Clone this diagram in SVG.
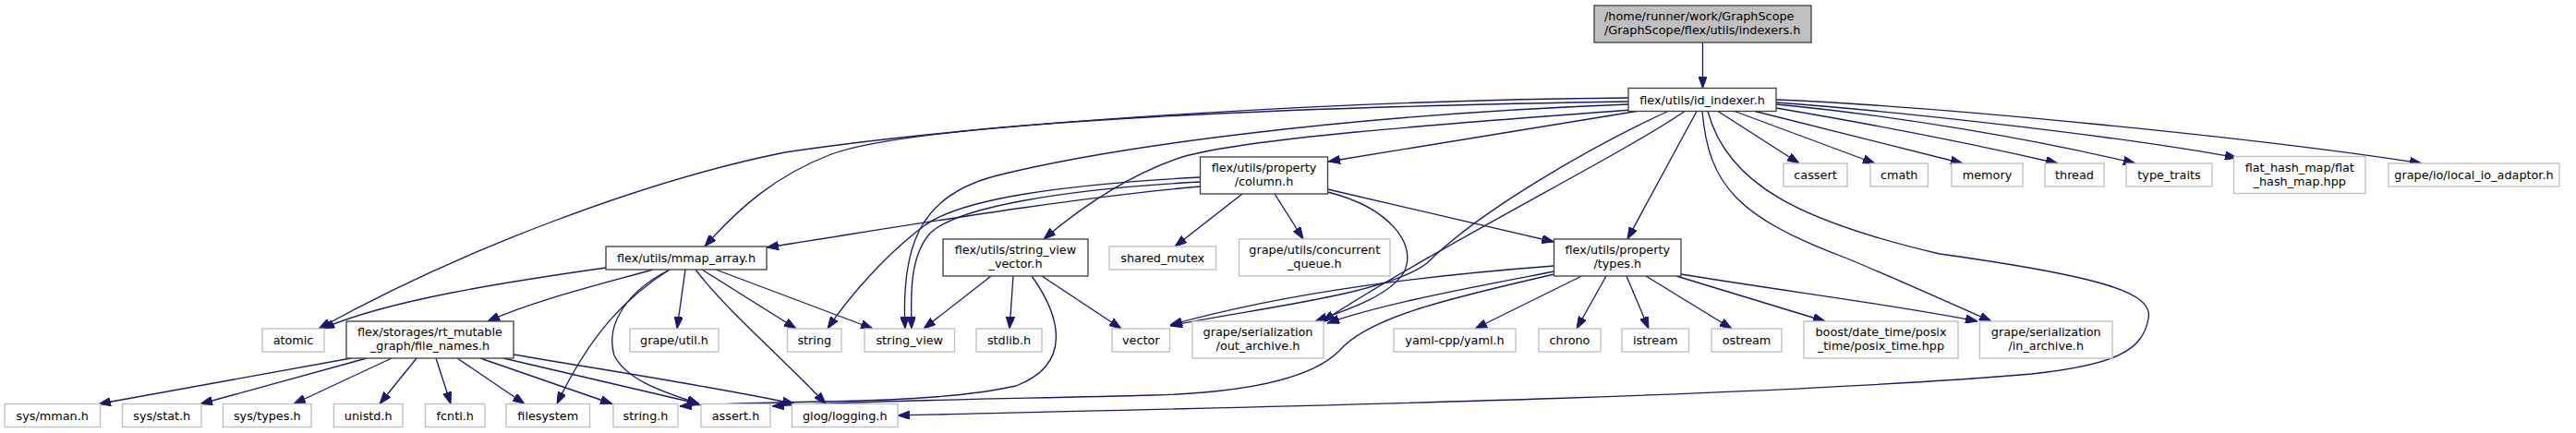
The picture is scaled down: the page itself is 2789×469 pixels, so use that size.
<svg xmlns="http://www.w3.org/2000/svg" width="2789" height="469" viewBox="0 0 2789 469">
<style>
text{font-family:"DejaVu Sans","Liberation Sans",sans-serif;font-size:12.8px;fill:#000;text-anchor:middle}
.l{text-anchor:start}
.m rect{fill:#fff;stroke:#404040;stroke-width:1.33}
.x rect{fill:#fff;stroke:#bfbfbf;stroke-width:1.33}
.r rect{fill:#bfbfbf;stroke:#404040;stroke-width:1.33}
#edges path{fill:none;stroke:#191970;stroke-width:1.33;marker-end:url(#ah)}
</style>
<defs>
<marker id="ah" markerUnits="userSpaceOnUse" viewBox="0 0 13 9.4" markerWidth="13" markerHeight="9.4" refX="13" refY="4.7" orient="auto">
<path d="M0,0 L13,4.7 L0,9.4 z" fill="#191970" stroke="#191970" stroke-width="1"/>
</marker>
</defs>
<rect width="2789" height="469" fill="#fff"/>
<g id="edges">
<path d="M1843.5,46 L1843.5,95.5"/>
<path d="M1860,120.5 L1948,177"/>
<path d="M1878,120.5 L2030,177"/>
<path d="M1900,120.5 L2125,177"/>
<path d="M1923,117 C2000,130 2120,152 2228,177"/>
<path d="M1923,113 C2050,125 2200,150 2312,177"/>
<path d="M1923,111 C2060,121 2300,148 2422,171"/>
<path d="M1923,108 C2100,115 2450,150 2622,177"/>
<path d="M1772,120.5 L1438,175"/>
<path d="M1763,106 C1500,108 1100,128 850,165 C700,195 500,270 345,356"/>
<path d="M1763,110 C1450,115 1000,130 900,167 C840,190 800,225 763,267"/>
<path d="M1763,113 C1450,125 1200,160 1080,190 C1000,210 975,260 980,356"/>
<path d="M1766,119 C1550,135 1350,150 1280,170 C1220,190 1170,225 1130,259"/>
<path d="M1837,120.5 L1762,259"/>
<path d="M1843,120.5 C1850,200 1880,235 2000,280 C2060,305 2110,328 2156,348"/>
<path d="M1849,120.5 C1870,200 1950,240 2100,275 C2280,300 2332,318 2326,345 C2320,380 2290,395 2200,405 C1900,430 1400,440 972,450"/>
<path d="M1806,120.5 C1720,160 1600,230 1545,285 C1500,320 1350,335 1267,353"/>
<path d="M1824,120.5 C1760,165 1560,265 1432,348"/>
<path d="M1299.5,202 C1150,215 960,248 830,268"/>
<path d="M1299.5,192 C1150,200 1040,215 1000,245 C960,275 920,320 896,356"/>
<path d="M1299.5,197 C1150,205 1030,225 1005,255 C985,280 986,320 987,356"/>
<path d="M1345,210 L1272,267"/>
<path d="M1380,210 L1411,259"/>
<path d="M1437.5,205 L1682.5,262"/>
<path d="M1437.5,208 C1505,225 1535,265 1520,295 C1505,320 1460,335 1424,348"/>
<path d="M656,290 C550,305 420,325 349,356"/>
<path d="M707,292 C650,308 580,325 528,348"/>
<path d="M742,292 L733,356"/>
<path d="M760,292 L862,356"/>
<path d="M775,292 L945,356"/>
<path d="M753,292 C790,340 850,390 894,437.5"/>
<path d="M725,292 C680,320 640,360 603,437.5"/>
<path d="M725,292 C680,315 655,350 665,385 C680,415 730,428 757,437.5"/>
<path d="M380,388 L107,437.5"/>
<path d="M397,388 L217,437.5"/>
<path d="M424,388 L318,437.5"/>
<path d="M451,388 L411,437.5"/>
<path d="M472,388 L488,437.5"/>
<path d="M495,388 L568,437.5"/>
<path d="M520,388 L663,437.5"/>
<path d="M545,388 L757,437.5"/>
<path d="M556,384 C650,400 780,420 860,437.5"/>
<path d="M1073,299 L1000,356"/>
<path d="M1097,299 L1093,356"/>
<path d="M1128,299 L1214,356"/>
<path d="M1117,299 C1150,345 1160,395 1100,418 C1000,440 850,432 736,440"/>
<path d="M1712.5,299 L1597,356"/>
<path d="M1739,299 L1707,356"/>
<path d="M1761,299 L1785,356"/>
<path d="M1782,299 L1875,356"/>
<path d="M1815,299 L1976,348"/>
<path d="M1820,297 C1930,315 2050,330 2141,348"/>
<path d="M1682.5,288 C1550,298 1400,315 1267,352"/>
<path d="M1682.5,294 C1600,310 1500,328 1437,350"/>
<path d="M1683,297 C1560,325 1480,345 1450,380 C1420,410 1350,425 1250,428 C1100,432 950,433 836,440"/>
</g>
<g id="n_root" class="r"><rect x="1726" y="6" width="235" height="40"/><text class="l" x="1737" y="22">/home/runner/work/GraphScope</text><text class="l" x="1737" y="37">/GraphScope/flex/utils/indexers.h</text></g>
<g id="n_id_indexer" class="m"><rect x="1763" y="95.5" width="160" height="25"/><text x="1843" y="112.5">flex/utils/id_indexer.h</text></g>
<g id="n_column" class="m"><rect x="1299.5" y="170" width="138" height="40"/><text x="1368.5" y="186">flex/utils/property</text><text x="1368.5" y="201">/column.h</text></g>
<g id="n_cassert" class="x"><rect x="1931" y="177" width="69" height="25"/><text x="1965.5" y="194">cassert</text></g>
<g id="n_cmath" class="x"><rect x="2025" y="177" width="62.5" height="25"/><text x="2056.25" y="194">cmath</text></g>
<g id="n_memory" class="x"><rect x="2113" y="177" width="77" height="25"/><text x="2151.5" y="194">memory</text></g>
<g id="n_thread" class="x"><rect x="2214" y="177" width="64" height="25"/><text x="2246" y="194">thread</text></g>
<g id="n_type_traits" class="x"><rect x="2302" y="177" width="93" height="25"/><text x="2348.5" y="194">type_traits</text></g>
<g id="n_flat_hash_map" class="x"><rect x="2418.5" y="169.5" width="142.5" height="40"/><text x="2489.75" y="185.5">flat_hash_map/flat</text><text x="2489.75" y="200.5">_hash_map.hpp</text></g>
<g id="n_local_io" class="x"><rect x="2586" y="177" width="185" height="25"/><text x="2678.5" y="194">grape/io/local_io_adaptor.h</text></g>
<g id="n_mmap_array" class="m"><rect x="656" y="267" width="174" height="25"/><text x="743" y="284">flex/utils/mmap_array.h</text></g>
<g id="n_string_view_vector" class="m"><rect x="1021" y="259" width="157" height="40"/><text x="1099.5" y="275">flex/utils/string_view</text><text x="1099.5" y="290">_vector.h</text></g>
<g id="n_shared_mutex" class="x"><rect x="1201" y="267" width="115.5" height="25"/><text x="1258.75" y="284">shared_mutex</text></g>
<g id="n_concurrent_queue" class="x"><rect x="1341.5" y="259" width="163.5" height="40"/><text x="1423.25" y="275">grape/utils/concurrent</text><text x="1423.25" y="290">_queue.h</text></g>
<g id="n_types" class="m"><rect x="1682.5" y="259" width="137.5" height="40"/><text x="1751.25" y="275">flex/utils/property</text><text x="1751.25" y="290">/types.h</text></g>
<g id="n_atomic" class="x"><rect x="284" y="356" width="67" height="25"/><text x="317.5" y="373">atomic</text></g>
<g id="n_file_names" class="m"><rect x="375" y="348" width="181" height="40"/><text x="465.5" y="364">flex/storages/rt_mutable</text><text x="465.5" y="379">_graph/file_names.h</text></g>
<g id="n_grape_util" class="x"><rect x="682" y="356" width="96" height="25"/><text x="730" y="373">grape/util.h</text></g>
<g id="n_string" class="x"><rect x="852.5" y="356" width="58.5" height="25"/><text x="881.75" y="373">string</text></g>
<g id="n_string_view" class="x"><rect x="936" y="356" width="97.5" height="25"/><text x="984.75" y="373">string_view</text></g>
<g id="n_stdlib" class="x"><rect x="1057" y="356" width="71" height="25"/><text x="1092.5" y="373">stdlib.h</text></g>
<g id="n_vector" class="x"><rect x="1204" y="356" width="62.5" height="25"/><text x="1235.25" y="373">vector</text></g>
<g id="n_out_archive" class="x"><rect x="1291" y="348" width="142" height="40"/><text x="1362" y="364">grape/serialization</text><text x="1362" y="379">/out_archive.h</text></g>
<g id="n_yaml" class="x"><rect x="1509" y="356" width="132" height="25"/><text x="1575" y="373">yaml-cpp/yaml.h</text></g>
<g id="n_chrono" class="x"><rect x="1666" y="356" width="67" height="25"/><text x="1699.5" y="373">chrono</text></g>
<g id="n_istream" class="x"><rect x="1756" y="356" width="72.5" height="25"/><text x="1792.25" y="373">istream</text></g>
<g id="n_ostream" class="x"><rect x="1853" y="356" width="76" height="25"/><text x="1891" y="373">ostream</text></g>
<g id="n_posix_time" class="x"><rect x="1953" y="348" width="167" height="40"/><text x="2036.5" y="364">boost/date_time/posix</text><text x="2036.5" y="379">_time/posix_time.hpp</text></g>
<g id="n_in_archive" class="x"><rect x="2143.5" y="348" width="143.5" height="40"/><text x="2215.25" y="364">grape/serialization</text><text x="2215.25" y="379">/in_archive.h</text></g>
<g id="n_sys_mman" class="x"><rect x="5" y="437.5" width="103.5" height="25"/><text x="56.75" y="454.5">sys/mman.h</text></g>
<g id="n_sys_stat" class="x"><rect x="132.5" y="437.5" width="85.5" height="25"/><text x="175.25" y="454.5">sys/stat.h</text></g>
<g id="n_sys_types" class="x"><rect x="241.5" y="437.5" width="95.5" height="25"/><text x="289.25" y="454.5">sys/types.h</text></g>
<g id="n_unistd" class="x"><rect x="361.5" y="437.5" width="74.5" height="25"/><text x="398.75" y="454.5">unistd.h</text></g>
<g id="n_fcntl" class="x"><rect x="460.5" y="437.5" width="64.5" height="25"/><text x="492.75" y="454.5">fcntl.h</text></g>
<g id="n_filesystem" class="x"><rect x="548" y="437.5" width="90.5" height="25"/><text x="593.25" y="454.5">filesystem</text></g>
<g id="n_string_h" class="x"><rect x="664" y="437.5" width="70" height="25"/><text x="699" y="454.5">string.h</text></g>
<g id="n_assert" class="x"><rect x="759" y="437.5" width="75" height="25"/><text x="796.5" y="454.5">assert.h</text></g>
<g id="n_glog" class="x"><rect x="857.5" y="437.5" width="114.5" height="25"/><text x="914.75" y="454.5">glog/logging.h</text></g>
</svg>
